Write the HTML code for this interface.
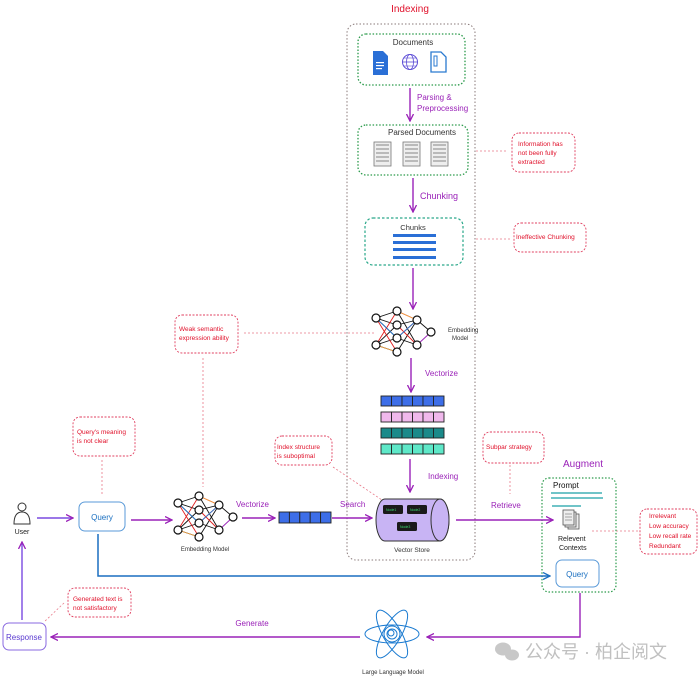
<!DOCTYPE html>
<html><head><meta charset="utf-8"><style>
html,body{margin:0;padding:0;background:#fff}
svg{display:block}
text{font-family:"Liberation Sans","Noto Sans CJK SC",sans-serif}
.r{fill:#e0102a;font-size:6.5px}
.p{fill:#9a22b8}
.g{fill:#333}
</style></head><body>
<svg width="700" height="679" viewBox="0 0 700 679" xmlns="http://www.w3.org/2000/svg">
<defs>
<marker id="ap" markerWidth="8" markerHeight="8" refX="7" refY="4" orient="auto" markerUnits="userSpaceOnUse"><path d="M0,0.5 L7,4 L0,7.5" fill="none" stroke="#9a22b8" stroke-width="1.3"/></marker>
<marker id="ab" markerWidth="8" markerHeight="8" refX="7" refY="4" orient="auto" markerUnits="userSpaceOnUse"><path d="M0,0.5 L7,4 L0,7.5" fill="none" stroke="#1a6fc0" stroke-width="1.3"/></marker>
</defs>

<text x="410" y="12" text-anchor="middle" fill="#e0102a" font-size="10">Indexing</text>
<rect x="347" y="24" width="128" height="536" rx="9" fill="none" stroke="#8a7a7a" stroke-width="1" stroke-dasharray="1.5,2"/>

<rect x="358" y="34" width="107" height="51" rx="8" fill="none" stroke="#2a9a4a" stroke-width="1.3" stroke-dasharray="1.5,1.8"/>
<text x="413" y="45" text-anchor="middle" class="g" font-size="8">Documents</text>
<path d="M373,51 h10 l5,5 v19 h-15 z" fill="#2a6fd6"/><rect x="376" y="62" width="8" height="1.2" fill="#fff"/><rect x="376" y="65" width="8" height="1.2" fill="#fff"/><rect x="376" y="68" width="6" height="1.2" fill="#fff"/>
<circle cx="410" cy="62" r="7.5" fill="none" stroke="#5b4bd6" stroke-width="1"/><ellipse cx="410" cy="62" rx="3.5" ry="7.5" fill="none" stroke="#5b4bd6" stroke-width="0.8"/><line x1="402.5" y1="62" x2="417.5" y2="62" stroke="#5b4bd6" stroke-width="0.8"/><line x1="404" y1="58" x2="416" y2="58" stroke="#5b4bd6" stroke-width="0.6"/><line x1="404" y1="66" x2="416" y2="66" stroke="#5b4bd6" stroke-width="0.6"/>
<path d="M431,52 h10 l5,5 v15 h-15 z" fill="#fff" stroke="#2a7ad0" stroke-width="1.3"/><rect x="434" y="56" width="3" height="10" fill="none" stroke="#2a7ad0" stroke-width="1"/>

<line x1="410" y1="88" x2="410" y2="121" stroke="#9a22b8" stroke-width="1.4" marker-end="url(#ap)"/>
<text x="417" y="100" class="p" font-size="8">Parsing  &amp;</text>
<text x="417" y="111" class="p" font-size="8">Preprocessing</text>

<rect x="358" y="125" width="110" height="50" rx="8" fill="none" stroke="#2a9a4a" stroke-width="1.3" stroke-dasharray="1.5,1.8"/>
<text x="422" y="135" text-anchor="middle" class="g" font-size="8">Parsed Documents</text>
<g fill="#eee" stroke="#777" stroke-width="0.8">
<rect x="374" y="142" width="17" height="24"/><rect x="403" y="142" width="17" height="24"/><rect x="431" y="142" width="17" height="24"/></g>
<g stroke="#666" stroke-width="0.8">
<path d="M376,145h13M376,149h13M376,153h13M376,157h13M376,161h13"/>
<path d="M405,145h13M405,149h13M405,153h13M405,157h13M405,161h13"/>
<path d="M433,145h13M433,149h13M433,153h13M433,157h13M433,161h13"/></g>

<line x1="413" y1="178" x2="413" y2="212" stroke="#9a22b8" stroke-width="1.4" marker-end="url(#ap)"/>
<text x="420" y="199" class="p" font-size="9">Chunking</text>

<rect x="365" y="218" width="98" height="47" rx="8" fill="none" stroke="#2aa88a" stroke-width="1.2" stroke-dasharray="2.5,2"/>
<text x="413" y="230" text-anchor="middle" class="g" font-size="7.5">Chunks</text>
<g fill="#2a6fd6"><rect x="393" y="234" width="43" height="3"/><rect x="393" y="241" width="43" height="3"/><rect x="393" y="248" width="43" height="3"/><rect x="393" y="256" width="43" height="3"/></g>

<line x1="413" y1="268" x2="413" y2="309" stroke="#9a22b8" stroke-width="1.4" marker-end="url(#ap)"/>

<g transform="translate(368,303)">
<g stroke-width="0.9">
<path d="M8,15L29,8M8,15L29,22M8,15L29,35M8,42L29,22M8,42L29,35M8,42L29,49M29,8L49,42M29,49L49,17M29,22L49,17M29,35L49,42M49,17L63,29" stroke="#111"/>
<path d="M8,15L29,49M8,42L29,8M29,8L49,17M29,22L49,42M29,35L49,17" stroke="#e02020"/>
<path d="M8,15L29,35M29,35L49,17" stroke="#2a7ad0"/>
<path d="M29,8L49,17M8,42L29,49" stroke="#f0a040"/>
<path d="M49,42L63,29" stroke="#9a22b8"/>
</g>
<g fill="#fff" stroke="#111" stroke-width="1.2"><circle cx="8" cy="15" r="4"/><circle cx="8" cy="42" r="4"/><circle cx="29" cy="8" r="4"/><circle cx="29" cy="22" r="4"/><circle cx="29" cy="35" r="4"/><circle cx="29" cy="49" r="4"/><circle cx="49" cy="17" r="4"/><circle cx="49" cy="42" r="4"/><circle cx="63" cy="29" r="4"/></g>
</g>
<text x="448" y="332" class="g" font-size="6">Embedding</text>
<text x="452" y="340" class="g" font-size="6">Model</text>

<line x1="411" y1="358" x2="411" y2="392" stroke="#9a22b8" stroke-width="1.4" marker-end="url(#ap)"/>
<text x="425" y="376" class="p" font-size="8">Vectorize</text>

<g stroke="#222" stroke-width="0.9">
<g fill="#3d6ee8"><rect x="381" y="396" width="10.5" height="10"/><rect x="391.5" y="396" width="10.5" height="10"/><rect x="402" y="396" width="10.5" height="10"/><rect x="412.5" y="396" width="10.5" height="10"/><rect x="423" y="396" width="10.5" height="10"/><rect x="433.5" y="396" width="10.5" height="10"/></g>
<g fill="#f0b8ec"><rect x="381" y="412" width="10.5" height="10"/><rect x="391.5" y="412" width="10.5" height="10"/><rect x="402" y="412" width="10.5" height="10"/><rect x="412.5" y="412" width="10.5" height="10"/><rect x="423" y="412" width="10.5" height="10"/><rect x="433.5" y="412" width="10.5" height="10"/></g>
<g fill="#1a8a8a"><rect x="381" y="428" width="10.5" height="10"/><rect x="391.5" y="428" width="10.5" height="10"/><rect x="402" y="428" width="10.5" height="10"/><rect x="412.5" y="428" width="10.5" height="10"/><rect x="423" y="428" width="10.5" height="10"/><rect x="433.5" y="428" width="10.5" height="10"/></g>
<g fill="#5ee8c8"><rect x="381" y="444" width="10.5" height="10"/><rect x="391.5" y="444" width="10.5" height="10"/><rect x="402" y="444" width="10.5" height="10"/><rect x="412.5" y="444" width="10.5" height="10"/><rect x="423" y="444" width="10.5" height="10"/><rect x="433.5" y="444" width="10.5" height="10"/></g>
</g>

<line x1="410" y1="459" x2="410" y2="492" stroke="#9a22b8" stroke-width="1.4" marker-end="url(#ap)"/>
<text x="428" y="479" class="p" font-size="8">Indexing</text>

<path d="M385,499 H440 A9,21 0 0 1 440,541 H385 A9,21 0 0 1 385,499 Z" fill="#c8b4f4" stroke="#333" stroke-width="1"/>
<ellipse cx="440" cy="520" rx="9" ry="21" fill="#c8b4f4" stroke="#333" stroke-width="1"/>
<g fill="#1a1a1a"><rect x="383" y="505" width="20" height="9" rx="1.5"/><rect x="407" y="505" width="20" height="9" rx="1.5"/><rect x="397" y="522" width="20" height="9" rx="1.5"/></g>
<g fill="#3ad870" font-size="3.5"><text x="386" y="511">Node1</text><text x="410" y="511">Node2</text><text x="400" y="528">Node3</text></g>
<text x="412" y="552" text-anchor="middle" class="g" font-size="6.5">Vector Store</text>

<g fill="none" stroke="#e04060" stroke-width="0.9" stroke-dasharray="2,1.5">
<rect x="512" y="133" width="63" height="39" rx="7"/>
<rect x="514" y="223" width="72" height="29" rx="7"/>
<rect x="175" y="315" width="63" height="38" rx="7"/>
<rect x="73" y="417" width="62" height="39" rx="7"/>
<rect x="275" y="436" width="57" height="29" rx="7"/>
<rect x="483" y="432" width="61" height="31" rx="7"/>
<rect x="640" y="509" width="57" height="45" rx="7"/>
<rect x="68" y="588" width="63" height="29" rx="7"/>
</g>
<g fill="none" stroke="#e87888" stroke-width="0.8" stroke-dasharray="2,2">
<line x1="476" y1="151" x2="506" y2="151"/>
<line x1="476" y1="239" x2="510" y2="239"/>
<line x1="244" y1="333" x2="375" y2="333"/>
<line x1="203" y1="358" x2="203" y2="487"/>
<line x1="102" y1="460" x2="102" y2="496"/>
<line x1="333" y1="467" x2="382" y2="500"/>
<line x1="510" y1="465" x2="510" y2="494"/>
<line x1="592" y1="531" x2="640" y2="531"/>
<line x1="64" y1="603" x2="44" y2="622"/>
</g>
<text class="r"><tspan x="518" y="146">Information has</tspan><tspan x="518" y="155">not been fully</tspan><tspan x="518" y="164">extracted</tspan></text>
<text class="r" x="516" y="239">Ineffective Chunking</text>
<text class="r"><tspan x="179" y="331">Weak semantic</tspan><tspan x="179" y="340">expression ability</tspan></text>
<text class="r"><tspan x="77" y="434">Query's meaning</tspan><tspan x="77" y="443">is not clear</tspan></text>
<text class="r"><tspan x="277" y="449">Index structure</tspan><tspan x="277" y="458">is suboptimal</tspan></text>
<text class="r" x="486" y="449">Subpar strategy</text>
<text class="r" font-size="5.5"><tspan x="649" y="518">Irrelevant</tspan><tspan x="649" y="528">Low accuracy</tspan><tspan x="649" y="538">Low recall rate</tspan><tspan x="649" y="548">Redundant</tspan></text>
<text class="r" font-size="6"><tspan x="73" y="601">Generated text is</tspan><tspan x="73" y="610">not satisfactory</tspan></text>

<text x="583" y="467" text-anchor="middle" class="p" font-size="10">Augment</text>
<rect x="542" y="478" width="74" height="114" rx="7" fill="none" stroke="#2a9a4a" stroke-width="1.2" stroke-dasharray="1.5,1.8"/>
<text x="553" y="488" fill="#111" font-size="8">Prompt</text>
<g stroke="#1aa0a8" stroke-width="1.2"><line x1="551" y1="493" x2="602" y2="493"/><line x1="551" y1="498" x2="603" y2="498"/><line x1="552" y1="506" x2="581" y2="506"/></g>
<g fill="#eee" stroke="#555" stroke-width="0.8"><rect x="568" y="514" width="11" height="15"/><rect x="565" y="512" width="11" height="15"/><rect x="563" y="510" width="11" height="15"/></g>
<path d="M565,514h7M565,517h7M565,520h7" stroke="#555" stroke-width="0.6"/>
<text x="558" y="541" fill="#222" font-size="7">Relevent</text>
<text x="559" y="550" fill="#222" font-size="7">Contexts</text>
<rect x="556" y="560" width="43" height="27" rx="6" fill="#fff" stroke="#5a9ad8" stroke-width="1"/>
<text x="577" y="577" text-anchor="middle" fill="#1a6fc0" font-size="8">Query</text>

<circle cx="22" cy="507" r="4" fill="#fff" stroke="#333" stroke-width="1"/>
<path d="M14,524 Q14,512 22,512 Q30,512 30,524 Z" fill="#fff" stroke="#333" stroke-width="1"/>
<text x="22" y="534" text-anchor="middle" fill="#222" font-size="7">User</text>
<line x1="37" y1="518" x2="73" y2="518" stroke="#7a4ae0" stroke-width="1.4" marker-end="url(#ap)"/>
<rect x="79" y="502" width="46" height="29" rx="6" fill="#fff" stroke="#5a9ad8" stroke-width="1"/>
<text x="102" y="520" text-anchor="middle" fill="#1a6fc0" font-size="8">Query</text>
<line x1="131" y1="520" x2="172" y2="520" stroke="#9a22b8" stroke-width="1.4" marker-end="url(#ap)"/>

<g transform="translate(170,488)">
<g stroke-width="0.9">
<path d="M8,15L29,8M8,15L29,22M8,15L29,35M8,42L29,22M8,42L29,35M8,42L29,49M29,8L49,42M29,49L49,17M29,22L49,17M29,35L49,42M49,17L63,29" stroke="#111"/>
<path d="M8,15L29,49M8,42L29,8M29,8L49,17M29,22L49,42M29,35L49,17" stroke="#e02020"/>
<path d="M8,15L29,35M29,35L49,17" stroke="#2a7ad0"/>
<path d="M29,8L49,17M8,42L29,49" stroke="#f0a040"/>
<path d="M49,42L63,29" stroke="#9a22b8"/>
</g>
<g fill="#fff" stroke="#111" stroke-width="1.2"><circle cx="8" cy="15" r="4"/><circle cx="8" cy="42" r="4"/><circle cx="29" cy="8" r="4"/><circle cx="29" cy="22" r="4"/><circle cx="29" cy="35" r="4"/><circle cx="29" cy="49" r="4"/><circle cx="49" cy="17" r="4"/><circle cx="49" cy="42" r="4"/><circle cx="63" cy="29" r="4"/></g>
</g>
<text x="205" y="551" text-anchor="middle" class="g" font-size="6">Embedding Model</text>

<line x1="242" y1="518" x2="275" y2="518" stroke="#9a22b8" stroke-width="1.4" marker-end="url(#ap)"/>
<text x="236" y="507" class="p" font-size="8">Vectorize</text>
<g fill="#3d6ee8" stroke="#222" stroke-width="0.9"><rect x="279" y="512" width="10.4" height="11"/><rect x="289.4" y="512" width="10.4" height="11"/><rect x="299.8" y="512" width="10.4" height="11"/><rect x="310.2" y="512" width="10.4" height="11"/><rect x="320.6" y="512" width="10.4" height="11"/></g>
<line x1="332" y1="518" x2="372" y2="518" stroke="#9a22b8" stroke-width="1.4" marker-end="url(#ap)"/>
<text x="340" y="507" class="p" font-size="8">Search</text>

<line x1="456" y1="520" x2="553" y2="520" stroke="#9a22b8" stroke-width="1.4" marker-end="url(#ap)"/>
<text x="491" y="508" class="p" font-size="8">Retrieve</text>

<path d="M98,534 V576 H550" fill="none" stroke="#1a6fc0" stroke-width="1.5" marker-end="url(#ab)"/>

<path d="M580,593 V637 H427" fill="none" stroke="#9a22b8" stroke-width="1.4" marker-end="url(#ap)"/>
<g fill="none" stroke="#1a7ad0" stroke-width="1">
<ellipse cx="392" cy="634" rx="27" ry="9"/>
<ellipse cx="392" cy="634" rx="27" ry="9" transform="rotate(60 392 634)"/>
<ellipse cx="392" cy="634" rx="27" ry="9" transform="rotate(-60 392 634)"/>
<circle cx="392" cy="634" r="8"/><circle cx="392" cy="634" r="5"/><circle cx="391" cy="633" r="3"/>
</g>
<text x="393" y="674" text-anchor="middle" class="g" font-size="6">Large Language Model</text>

<line x1="360" y1="637" x2="51" y2="637" stroke="#9a22b8" stroke-width="1.4" marker-end="url(#ap)"/>
<text x="252" y="626" text-anchor="middle" class="p" font-size="8">Generate</text>

<rect x="3" y="623" width="43" height="27" rx="6" fill="#fff" stroke="#8a6ae0" stroke-width="1"/>
<text x="24" y="640" text-anchor="middle" fill="#5a3ad0" font-size="8">Response</text>
<line x1="22" y1="620" x2="22" y2="542" stroke="#7a4ae0" stroke-width="1.4" marker-end="url(#ap)"/>

<ellipse cx="503" cy="649" rx="8" ry="6.5" fill="#c8c8c8"/><ellipse cx="512" cy="655" rx="7" ry="5.5" fill="#c8c8c8"/>
<text x="525" y="658" fill="#c0c0c0" font-size="18">公众号 · 柏企阅文</text>
</svg>
</body></html>
